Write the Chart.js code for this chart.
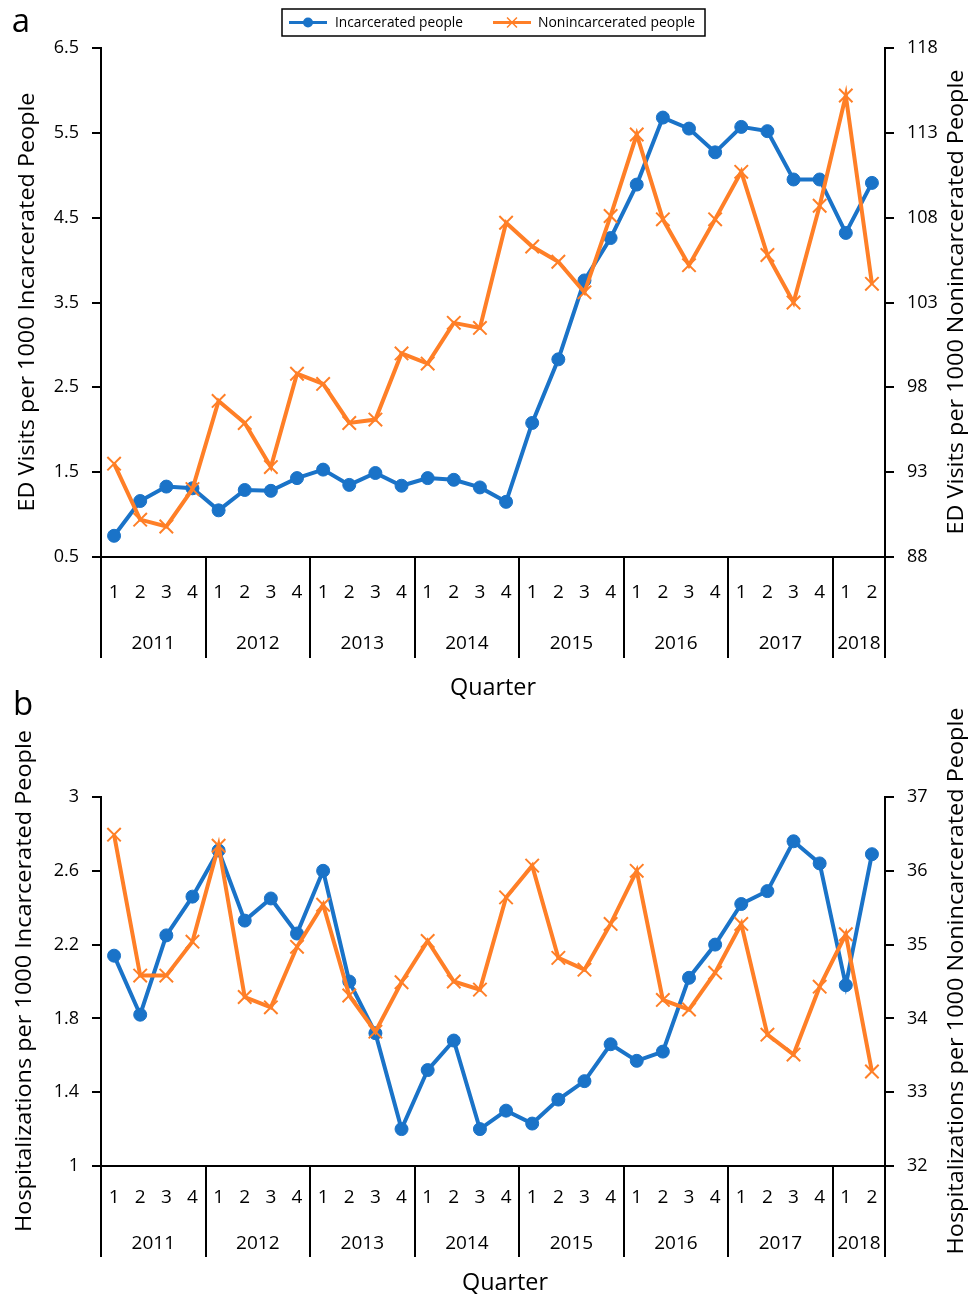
<!DOCTYPE html>
<html>
<head>
<meta charset="utf-8">
<script src="https://cdn.jsdelivr.net/npm/chart.js@4.4.1/dist/chart.umd.min.js"></script>
<style>
  html, body { margin: 0; padding: 0; background: #fff; }
  #wrap { position: relative; width: 971px; height: 1296px; }
  .panel { position: absolute; left: 0; width: 971px; }
</style>
</head>
<body>
<div id="wrap">
  <div class="panel" style="top:0;height:705px"><canvas id="edChart" width="971" height="705"></canvas></div>
  <div class="panel" style="top:680px;height:616px"><canvas id="hospChart" width="971" height="616"></canvas></div>
</div>
<script>
// ---- categories ----
const yearLabels = ['2011', '2012', '2013', '2014', '2015', '2016', '2017', '2018'];
const quartersPerYear = [4, 4, 4, 4, 4, 4, 4, 2];
const quarterLabels = [
  '1','2','3','4', '1','2','3','4', '1','2','3','4', '1','2','3','4',
  '1','2','3','4', '1','2','3','4', '1','2','3','4', '1','2'
];

// ---- panel a: ED visits per 1000 people ----
const edIncarcerated = [
  0.75, 1.16, 1.33, 1.31, 1.05, 1.29, 1.28, 1.43, 1.53, 1.35, 1.49, 1.34, 1.43, 1.41, 1.32,
  1.15, 2.08, 2.83, 3.76, 4.26, 4.89, 5.68, 5.55, 5.27, 5.57, 5.52, 4.95, 4.95, 4.32, 4.91
];
const edNonincarcerated = [
  93.5, 90.2, 89.8, 92.0, 97.2, 95.9, 93.3, 98.8, 98.2, 95.9, 96.1, 100.0, 99.4, 101.8, 101.5,
  107.7, 106.3, 105.4, 103.6, 108.1, 112.9, 107.9, 105.2, 107.9, 110.7, 105.8, 103.0, 108.7, 115.2, 104.1
];
const edLeftTicks = [0.5, 1.5, 2.5, 3.5, 4.5, 5.5, 6.5];
const edRightTicks = [88, 93, 98, 103, 108, 113, 118];

// ---- panel b: hospitalizations per 1000 people ----
const hospIncarcerated = [
  2.14, 1.82, 2.25, 2.46, 2.71, 2.33, 2.45, 2.26, 2.60, 2.00, 1.72, 1.20, 1.52, 1.68, 1.20,
  1.30, 1.23, 1.36, 1.46, 1.66, 1.57, 1.62, 2.02, 2.20, 2.42, 2.49, 2.76, 2.64, 1.98, 2.69
];
const hospNonincarcerated = [
  36.49, 34.58, 34.58, 35.04, 36.34, 34.29, 34.15, 34.97, 35.54, 34.31, 33.82, 34.49, 35.05, 34.50, 34.39,
  35.64, 36.07, 34.82, 34.66, 35.28, 36.00, 34.25, 34.12, 34.62, 35.28, 33.78, 33.51, 34.43, 35.14, 33.28
];
const hospLeftTicks = [1, 1.4, 1.8, 2.2, 2.6, 3];
const hospRightTicks = [32, 33, 34, 35, 36, 37];

const seriesNames = ['Incarcerated people', 'Nonincarcerated people'];

// ---- styling ----
const FONT = "'Open Sans', 'Noto Sans', sans-serif";
const BLUE = '#1a73c8';
const ORANGE = '#ff7f27';

// text squeezed/stretched horizontally to a given run length
function drawFitted(ctx, text, x, y, len, size, opts = {}) {
  ctx.save();
  ctx.font = `${size}px ${FONT}`;
  ctx.fillStyle = '#000';
  ctx.translate(x, y);
  if (opts.rotate) ctx.rotate(-Math.PI / 2);
  const w = ctx.measureText(text).width;
  ctx.scale(len / w, 1);
  ctx.textAlign = opts.align || 'center';
  ctx.textBaseline = 'middle';
  ctx.fillText(text, 0, 0);
  ctx.restore();
}

// category boundaries on the x scale (between neighbouring quarters)
function boundaryPixel(xs, area, i, n) {
  if (i <= 0) return area.left;
  if (i >= n) return area.right;
  return (xs.getPixelForValue(i - 1) + xs.getPixelForValue(i)) / 2;
}

const decorPlugin = {
  id: 'panelDecor',
  afterDraw(chart, args, o) {
    const ctx = chart.ctx;
    const area = chart.chartArea;
    const xs = chart.scales.x;
    const n = quarterLabels.length;

    // year separators and year labels below the quarter numbers
    ctx.save();
    ctx.strokeStyle = '#000';
    ctx.lineWidth = 2;
    let start = 0;
    const edges = [0];
    quartersPerYear.forEach(q => { start += q; edges.push(start); });
    edges.forEach(e => {
      const x = Math.round(boundaryPixel(xs, area, e, n));
      ctx.beginPath();
      ctx.moveTo(x, area.bottom);
      ctx.lineTo(x, area.bottom + o.sepDepth);
      ctx.stroke();
    });
    ctx.fillStyle = '#000';
    ctx.font = `${o.yearSize}px ${FONT}`;
    ctx.textAlign = 'center';
    ctx.textBaseline = 'middle';
    yearLabels.forEach((y, k) => {
      const x0 = boundaryPixel(xs, area, edges[k], n);
      const x1 = boundaryPixel(xs, area, edges[k + 1], n);
      ctx.fillText(y, (x0 + x1) / 2, o.yearY);
    });
    ctx.restore();

    // axis titles and panel letter
    drawFitted(ctx, o.leftTitle.text, o.leftTitle.x, o.leftTitle.y, o.leftTitle.len, 22, { rotate: true });
    drawFitted(ctx, o.rightTitle.text, o.rightTitle.x, o.rightTitle.y, o.rightTitle.len, 22, { rotate: true });
    drawFitted(ctx, 'Quarter', o.xTitle.x, o.xTitle.y, o.xTitle.len, 24);
    ctx.save();
    ctx.font = `33px ${FONT}`;
    ctx.fillStyle = '#000';
    ctx.textAlign = 'center';
    ctx.textBaseline = 'middle';
    ctx.fillText(o.letter.text, o.letter.x, o.letter.y);
    ctx.restore();

    // legend box
    if (o.legend) {
      const L = o.legend;
      ctx.save();
      ctx.strokeStyle = '#000';
      ctx.lineWidth = 1.5;
      ctx.strokeRect(L.x, L.y, L.w, L.h);
      const cy = L.y + L.h / 2;
      L.items.forEach((it, k) => {
        const ds = chart.data.datasets.find(d => d.label === seriesNames[k]);
        ctx.strokeStyle = ds.borderColor;
        ctx.lineWidth = 3;
        ctx.beginPath();
        ctx.moveTo(it.lineFrom, cy);
        ctx.lineTo(it.lineTo, cy);
        ctx.stroke();
        const mx = (it.lineFrom + it.lineTo) / 2;
        ctx.fillStyle = ds.pointBackgroundColor;
        ctx.strokeStyle = ds.pointBorderColor;
        ctx.lineWidth = 1.5;
        if (ds.pointStyle === 'circle') {
          ctx.beginPath(); ctx.arc(mx, cy, it.markerR, 0, Math.PI * 2); ctx.fill();
        } else {
          const r = it.markerR * Math.SQRT1_2;
          ctx.beginPath();
          ctx.moveTo(mx - r, cy - r); ctx.lineTo(mx + r, cy + r);
          ctx.moveTo(mx - r, cy + r); ctx.lineTo(mx + r, cy - r);
          ctx.stroke();
        }
        drawFitted(ctx, seriesNames[k], it.textX, cy, it.textLen, 15, { align: 'left' });
      });
      ctx.restore();
    }
  }
};

function buildChart(canvasId, cfg) {
  const axisBlack = '#000';
  const tickFont = { family: FONT, size: 18 };
  return new Chart(document.getElementById(canvasId), {
    type: 'line',
    data: {
      labels: quarterLabels,
      datasets: [
        {
          label: seriesNames[1],
          data: cfg.right,
          yAxisID: 'y1',
          order: 1,
          borderColor: ORANGE,
          backgroundColor: ORANGE,
          borderWidth: 4,
          tension: 0,
          pointStyle: 'crossRot',
          pointRadius: 9.5,
          pointBorderWidth: 2,
          pointBorderColor: ORANGE,
          pointBackgroundColor: ORANGE,
          pointHoverRadius: 9.5
        },
        {
          label: seriesNames[0],
          data: cfg.left,
          yAxisID: 'y',
          order: 2,
          borderColor: BLUE,
          backgroundColor: BLUE,
          borderWidth: 4,
          tension: 0,
          pointStyle: 'circle',
          pointRadius: 6.5,
          pointBorderWidth: 1,
          pointBorderColor: BLUE,
          pointBackgroundColor: BLUE,
          pointHoverRadius: 6.5
        }
      ]
    },
    options: {
      responsive: false,
      animation: false,
      devicePixelRatio: 1,
      layout: { padding: { top: cfg.top, left: 0, right: 0, bottom: 0 } },
      plugins: {
        legend: { display: false },
        tooltip: { enabled: false },
        panelDecor: cfg.decor
      },
      scales: {
        x: {
          type: 'category',
          offset: true,
          grid: { display: false, drawTicks: false },
          border: { display: true, color: axisBlack, width: 2 },
          ticks: {
            color: '#000', font: { family: FONT, size: 19 }, padding: cfg.xPad,
            autoSkip: false, maxRotation: 0, minRotation: 0
          },
          afterFit: s => { s.height = cfg.xHeight; }
        },
        y: {
          position: 'left',
          min: cfg.leftTicks[0],
          max: cfg.leftTicks[cfg.leftTicks.length - 1],
          afterBuildTicks: s => { s.ticks = cfg.leftTicks.map(v => ({ value: v })); },
          ticks: { color: '#000', font: tickFont, padding: 13, callback: v => String(v) },
          grid: { drawOnChartArea: false, drawTicks: true, tickLength: 9, color: axisBlack, lineWidth: 2 },
          border: { display: true, color: axisBlack, width: 2 },
          afterFit: s => { s.width = 101; }
        },
        y1: {
          position: 'right',
          min: cfg.rightTicks[0],
          max: cfg.rightTicks[cfg.rightTicks.length - 1],
          afterBuildTicks: s => { s.ticks = cfg.rightTicks.map(v => ({ value: v })); },
          ticks: { color: '#000', font: tickFont, padding: 13, callback: v => String(v) },
          grid: { drawOnChartArea: false, drawTicks: true, tickLength: 9, color: axisBlack, lineWidth: 2 },
          border: { display: true, color: axisBlack, width: 2 },
          afterFit: s => { s.width = 86; }
        }
      }
    },
    plugins: [decorPlugin]
  });
}

// panel a (canvas spans page y 0..705)
buildChart('edChart', {
  left: edIncarcerated,
  right: edNonincarcerated,
  leftTicks: edLeftTicks,
  rightTicks: edRightTicks,
  top: 48,
  xHeight: 148,
  xPad: 24,
  decor: {
    sepDepth: 101,
    yearY: 644,
    yearSize: 19,
    letter: { text: 'a', x: 21, y: 23 },
    leftTitle: { text: 'ED Visits per 1000 Incarcerated People', x: 28, y: 302, len: 419 },
    rightTitle: { text: 'ED Visits per 1000 Nonincarcerated People', x: 957, y: 302, len: 465 },
    xTitle: { x: 493, y: 688, len: 86 },
    legend: {
      x: 282, y: 9, w: 423, h: 27,
      items: [
        { lineFrom: 289, lineTo: 327, markerR: 5, textX: 335, textLen: 128 },
        { lineFrom: 493, lineTo: 531, markerR: 7, textX: 538, textLen: 157 }
      ]
    }
  }
});

// panel b (canvas spans page y 680..1296, transparent over the overlap)
buildChart('hospChart', {
  left: hospIncarcerated,
  right: hospNonincarcerated,
  leftTicks: hospLeftTicks,
  rightTicks: hospRightTicks,
  top: 117,
  xHeight: 130,
  xPad: 20,
  decor: {
    sepDepth: 91,
    yearY: 564,
    yearSize: 19,
    letter: { text: 'b', x: 23, y: 26 },
    leftTitle: { text: 'Hospitalizations per 1000 Incarcerated People', x: 25, y: 301, len: 502 },
    rightTitle: { text: 'Hospitalizations per 1000 Nonincarcerated People', x: 957, y: 301, len: 547 },
    xTitle: { x: 505, y: 603, len: 86 },
    legend: null
  }
});
</script>
</body>
</html>
